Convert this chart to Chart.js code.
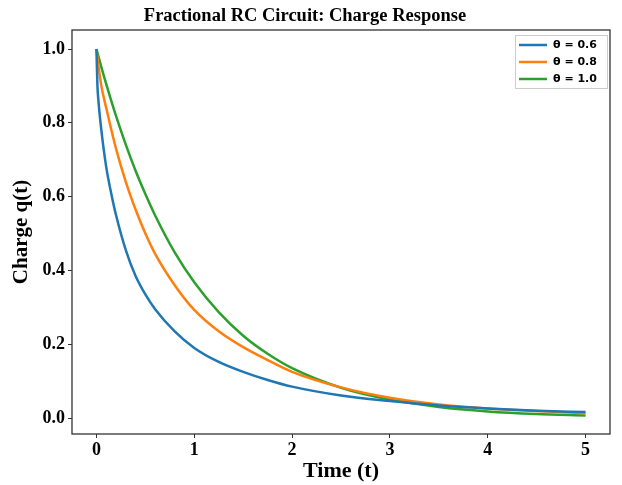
<!DOCTYPE html>
<html>
<head>
    <style>
        body { margin: 0; padding: 0; background: #fff; }
        #wrap { width: 622px; height: 485px; }
    </style>
</head>
<body>
    <div id="wrap"><canvas id="chargeChart" width="622" height="485"></canvas></div>
    <script src="https://cdn.jsdelivr.net/npm/chart.js"></script>
    <script>
// values
const timeValues = [0, 0.01, 0.02, 0.05, 0.1, 0.15, 0.2, 0.3, 0.4, 0.5, 0.6, 0.8, 1.0, 1.25, 1.5, 1.75, 2.0, 2.5, 3.0, 3.5, 4.0, 4.5, 5.0];
const q06 = [1.0, 0.90, 0.86, 0.78, 0.68, 0.61, 0.55, 0.455, 0.385, 0.335, 0.295, 0.235, 0.19, 0.152, 0.125, 0.103, 0.085, 0.061, 0.046, 0.034, 0.026, 0.02, 0.016];
const q08 = [1.0, 0.975, 0.955, 0.90, 0.84, 0.783, 0.73, 0.64, 0.565, 0.50, 0.445, 0.36, 0.293, 0.235, 0.192, 0.157, 0.125, 0.083, 0.055, 0.037, 0.026, 0.019, 0.013];
const q10 = [1.0, 0.99, 0.98, 0.951, 0.905, 0.861, 0.819, 0.741, 0.670, 0.607, 0.549, 0.449, 0.368, 0.287, 0.223, 0.174, 0.135, 0.082, 0.05, 0.03, 0.018, 0.011, 0.007];
const seriesLabels = ["\u03b8 = 0.6", "\u03b8 = 0.8", "\u03b8 = 1.0"];
const seriesColors = ["#1f77b4", "#ff7f0e", "#2ca02c"];
const xTicks = [0, 1, 2, 3, 4, 5];
const yTicks = [0.0, 0.2, 0.4, 0.6, 0.8, 1.0];

const serif = "'Liberation Serif', 'Times New Roman', serif";

function toPoints(ys) {
    return timeValues.map((t, i) => ({ x: t, y: ys[i] }));
}

// box round the axes + legend in the upper right
const frameAndLegend = {
    id: 'frameAndLegend',
    afterDatasetsDraw(chart) {
        const { ctx, chartArea: a } = chart;
        ctx.save();
        ctx.strokeStyle = '#333';
        ctx.lineWidth = 1.3;
        ctx.strokeRect(a.left, a.top, a.right - a.left, a.bottom - a.top);

        // legend box
        const bx = a.right - 95, by = a.top + 5, bw = 92, bh = 53;
        ctx.fillStyle = 'rgba(255,255,255,0.8)';
        ctx.strokeStyle = '#ccc';
        ctx.lineWidth = 1;
        ctx.fillRect(bx, by, bw, bh);
        ctx.strokeRect(bx + 0.5, by + 0.5, bw, bh);
        ctx.font = "bold 11px 'DejaVu Sans', sans-serif";
        ctx.textBaseline = 'middle';
        chart.data.datasets.forEach((ds, i) => {
            const y = by + 10 + i * 17;
            ctx.strokeStyle = ds.borderColor;
            ctx.lineWidth = 2.5;
            ctx.beginPath();
            ctx.moveTo(bx + 4, y);
            ctx.lineTo(bx + 32, y);
            ctx.stroke();
            ctx.fillStyle = '#000';
            ctx.fillText(ds.label, bx + 38, y);
        });
        ctx.restore();
    }
};

new Chart(document.getElementById('chargeChart'), {
    type: 'line',
    data: {
        datasets: [q06, q08, q10].map((ys, i) => ({
            label: seriesLabels[i],
            data: toPoints(ys),
            borderColor: seriesColors[i],
            backgroundColor: seriesColors[i],
            borderWidth: 2.5,
            pointRadius: 0,
            cubicInterpolationMode: 'monotone',
            fill: false
        }))
    },
    options: {
        responsive: false,
        animation: false,
        layout: { padding: { top: 0, right: 12, bottom: 0, left: 0 } },
        plugins: {
            legend: { display: false },
            tooltip: { enabled: false },
            title: {
                display: true,
                text: 'Fractional RC Circuit: Charge Response',
                color: '#000',
                font: { family: serif, size: 18.5, weight: 'bold', lineHeight: 1.2 },
                padding: { top: 5, bottom: 2.8 }
            }
        },
        scales: {
            x: {
                type: 'linear',
                min: -0.25,
                max: 5.25,
                afterBuildTicks: (s) => { s.ticks = xTicks.map(v => ({ value: v })); },
                afterFit: (s) => { s.height = 51; },
                grid: { drawOnChartArea: false, drawTicks: true, tickLength: 4, color: '#333' },
                border: { display: false },
                ticks: {
                    color: '#000',
                    padding: 2,
                    font: { family: serif, size: 18, weight: 'bold' },
                    callback: v => v.toFixed(0)
                },
                title: {
                    display: true,
                    text: 'Time (t)',
                    color: '#000',
                    font: { family: serif, size: 22, weight: 'bold' },
                    padding: { top: 0, bottom: 0 }
                }
            },
            y: {
                type: 'linear',
                min: -0.0433,
                max: 1.0515,
                afterBuildTicks: (s) => { s.ticks = yTicks.map(v => ({ value: v })); },
                afterFit: (s) => { s.width = 72; },
                grid: { drawOnChartArea: false, drawTicks: true, tickLength: 4, color: '#333' },
                border: { display: false },
                ticks: {
                    color: '#000',
                    padding: 3,
                    font: { family: serif, size: 18, weight: 'bold' },
                    callback: v => v.toFixed(1)
                },
                title: {
                    display: true,
                    text: 'Charge q(t)',
                    color: '#000',
                    font: { family: serif, size: 21, weight: 'bold' },
                    padding: { top: 9, bottom: 0 }
                }
            }
        }
    },
    plugins: [frameAndLegend]
});
    </script>
</body>
</html>
